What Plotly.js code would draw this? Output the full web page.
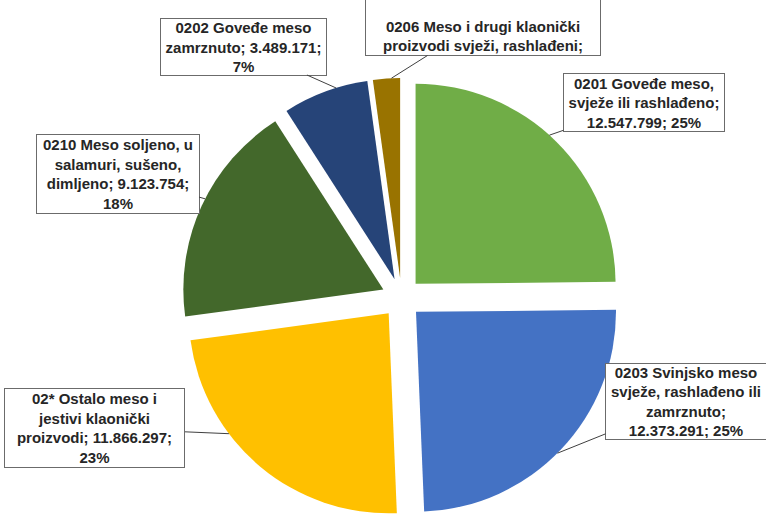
<!DOCTYPE html>
<html><head><meta charset="utf-8">
<script src="https://cdn.plot.ly/plotly-3.0.1.min.js"></script>
<style>html,body{margin:0;padding:0;overflow:hidden;background:#fff}#chart{width:766px;height:540px}</style>
</head><body><div id="chart"></div>
<script>
// ---- data ----
const categories = [
  '0201 Goveđe meso, svježe ili rashlađeno',
  '0203 Svinjsko meso svježe, rashlađeno ili zamrznuto',
  '02* Ostalo meso i jestivi klaonički proizvodi',
  '0210 Meso soljeno, u salamuri, sušeno, dimljeno',
  '0202 Goveđe meso zamrznuto',
  '0206 Meso i drugi klaonički proizvodi svježi, rashlađeni'
];
const values = [12547799, 12373291, 11866297, 9123754, 3489171, 1100000];
const labelNames = [
  '0201 Goveđe meso,<br>svježe ili rashlađeno',
  '0203 Svinjsko meso<br>svježe, rashlađeno ili<br>zamrznuto',
  '02* Ostalo meso i<br>jestivi klaonički<br>proizvodi',
  '0210 Meso soljeno, u<br>salamuri, sušeno,<br>dimljeno',
  '0202 Goveđe meso<br>zamrznuto',
  '0206 Meso i drugi klaonički<br>proizvodi svježi, rashlađeni'
];
const colors = ['#70AD47', '#4472C4', '#FFC000', '#43682B', '#264478', '#997300'];

// ---- label layout (text wrapping, box positions in px, leader angle in deg) ----
const labelLayout = [
  {valSep: '<br>', pctSep: ' ',    showVal: true,  cx: 644,   cy: 102.5, w: 162, h: 59, tip: 42,  valign: 'middle'},
  {valSep: '<br>', pctSep: ' ',    showVal: true,  cx: 686,   cy: 401.5, w: 162, h: 77, tip: 135, valign: 'middle'},
  {valSep: ' ',    pctSep: '<br>', showVal: true,  cx: 95,    cy: 428,   w: 181, h: 80, tip: 233, valign: 'middle'},
  {valSep: ' ',    pctSep: '<br>', showVal: true,  cx: 117.5, cy: 174,   w: 164, h: 80, tip: 297, valign: 'middle'},
  {valSep: ' ',    pctSep: '<br>', showVal: true,  cx: 243,   cy: 46.5,  w: 167, h: 58, tip: 343, valign: 'middle'},
  {valSep: '',     pctSep: '',     showVal: false, cx: 483,   cy: 20.5,  w: 236, h: 71, tip: 357.5, valign: 'bottom'}
];

const W = 766, H = 540;
const CX = 401.5, CY = 298, R = 200, PULL = 0.1;

function fmt(n) { return String(n).replace(/\B(?=(\d{3})+(?!\d))/g, '.'); }

const total = values.reduce((a, b) => a + b, 0);
const rad = d => d * Math.PI / 180;
let cum = 0;
const annotations = [];
values.forEach((v, i) => {
  const frac = v / total;
  const mid = (cum + frac / 2) * 360;
  cum += frac;
  const L = labelLayout[i];
  const pct = Math.round(frac * 100) + '%';
  const text = L.showVal
    ? labelNames[i] + ';' + L.valSep + fmt(v) + ';' + L.pctSep + pct
    : labelNames[i] + ';';
  const tx = CX + PULL * R * Math.sin(rad(mid)) + R * Math.sin(rad(L.tip));
  const ty = CY - PULL * R * Math.cos(rad(mid)) - R * Math.cos(rad(L.tip));
  annotations.push({
    xref: 'paper', yref: 'paper', x: tx / W, y: 1 - ty / H,
    ax: L.cx - tx, ay: L.cy - ty, axref: 'pixel', ayref: 'pixel',
    text: text, showarrow: true, arrowhead: 0, arrowwidth: 1, arrowcolor: '#404040', standoff: 0,
    bordercolor: '#6b6b6b', borderwidth: 1, borderpad: 1, bgcolor: '#ffffff',
    width: L.w - 4, height: L.h - 4, align: 'center', valign: L.valign,
    font: {family: 'Liberation Sans, Arial, sans-serif', size: 15, color: '#262626', weight: 'bold'}
  });
});

const half = R * (1 + PULL);
const trace = {
  type: 'pie',
  labels: categories,
  values: values,
  marker: {colors: colors, line: {width: 0}},
  sort: false,
  direction: 'clockwise',
  rotation: 0,
  pull: PULL,
  textinfo: 'none',
  hoverinfo: 'label+value+percent',
  domain: {x: [(CX - half) / W, (CX + half) / W], y: [1 - (CY + half) / H, 1 - (CY - half) / H]}
};

Plotly.newPlot('chart', [trace], {
  width: W, height: H,
  margin: {l: 0, r: 0, t: 0, b: 0},
  showlegend: false,
  paper_bgcolor: '#ffffff',
  annotations: annotations
}, {displayModeBar: false, staticPlot: true});
</script>
</body></html>
